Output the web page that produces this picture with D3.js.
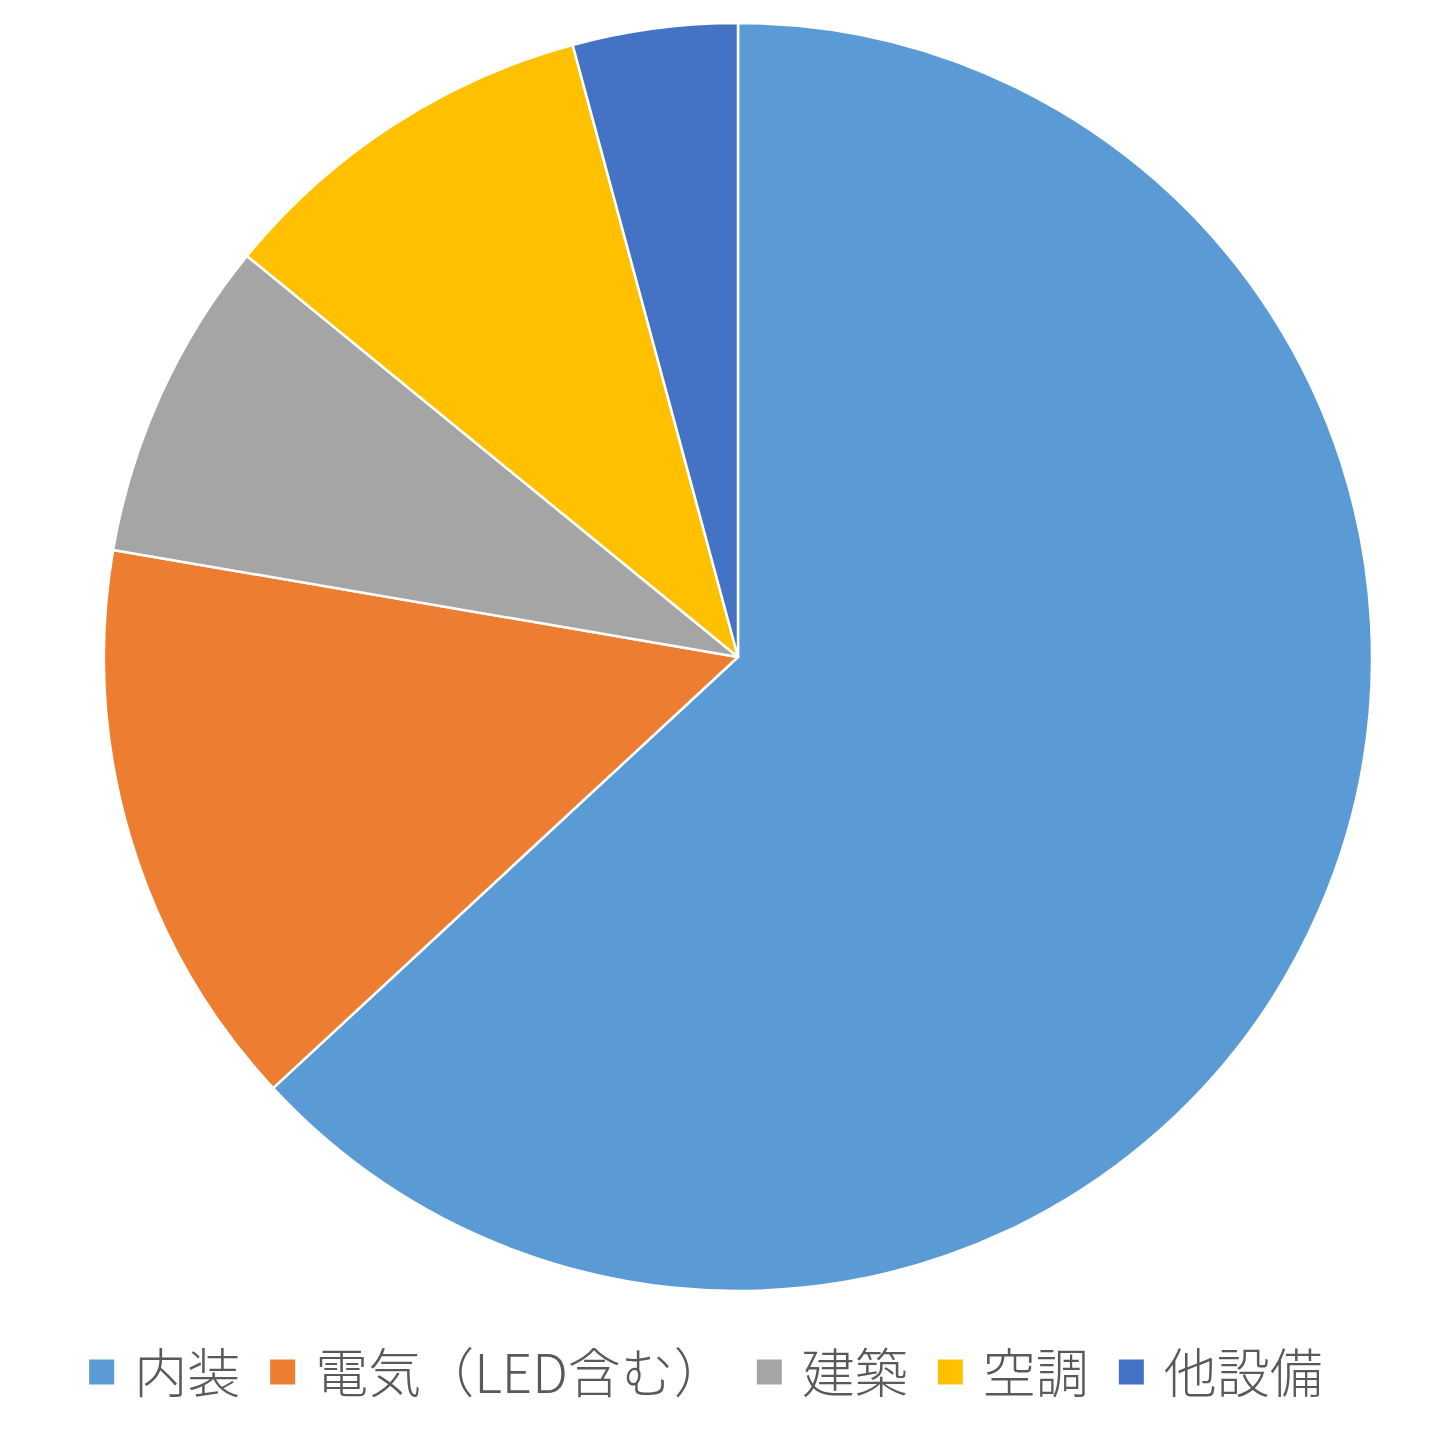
<!DOCTYPE html>
<html>
<head>
<meta charset="utf-8">
<script src="https://cdn.jsdelivr.net/npm/d3@7"></script>
<style>
  body { margin: 0; background: #fff; }
  text { font-family: "Noto Sans CJK JP", "Noto Sans", sans-serif; }
</style>
</head>
<body>
<div id="chart"></div>
<script>
// pie data (shares in %)
var categories = ["内装", "電気（LED含む）", "建築", "空調", "他設備"];
var values = [63.1, 14.6, 8.2, 9.9, 4.2];
var colors = ["#5B9BD5", "#ED7D31", "#A5A5A5", "#FFC000", "#4472C4"];

var w = 1440, h = 1444;
var cx = 738, cy = 657, r = 634;

var svg = d3.select("#chart").append("svg")
  .attr("width", w)
  .attr("height", h);

var data = categories.map(function(c, i) { return {name: c, value: values[i], color: colors[i]}; });

var pie = d3.pie().sort(null).value(function(d) { return d.value; });
var arc = d3.arc().innerRadius(0).outerRadius(r);

svg.append("g")
  .attr("transform", "translate(" + cx + "," + cy + ")")
  .selectAll("path")
  .data(pie(data))
  .enter().append("path")
    .attr("d", arc)
    .attr("fill", function(d) { return d.data.color; })
    .attr("stroke", "#fff")
    .attr("stroke-width", 2.5)
    .attr("stroke-linejoin", "round");

// legend, laid out left to right then centred
var legend = svg.append("g");
var fontSize = 53, box = 25, gapBox = 20, gapItem = 30;
var x = 0;
var items = legend.selectAll("g")
  .data(data)
  .enter().append("g");

items.append("rect")
  .attr("width", box)
  .attr("height", box)
  .attr("y", -box / 2 - 2)
  .attr("fill", function(d) { return d.color; });

items.append("text")
  .attr("x", box + gapBox)
  .attr("dy", "0.35em")
  .attr("font-size", fontSize)
  .attr("font-weight", 300)
  .attr("fill", "#595959")
  .text(function(d) { return d.name; });

items.each(function() {
  var g = d3.select(this);
  var tw = g.select("text").node().getComputedTextLength();
  g.attr("transform", "translate(" + x + ",0)");
  x += box + gapBox + tw + gapItem;
});
var total = x - gapItem;
legend.attr("transform", "translate(" + (706 - total / 2) + ",1374)");
</script>
</body>
</html>
